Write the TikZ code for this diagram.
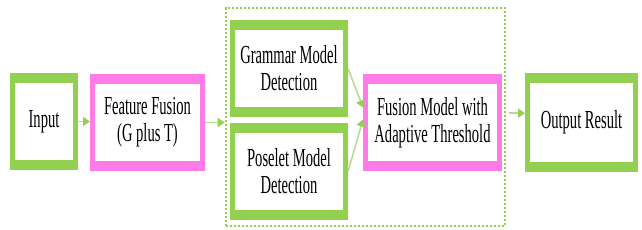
\documentclass[tikz,border=0pt]{standalone}
\usepackage{fontspec}
\setmainfont{Liberation Serif}[FakeStretch=0.56]
\usetikzlibrary{positioning,arrows.meta,fit}
\definecolor{boxgreen}{HTML}{92D050}
\definecolor{boxpink}{HTML}{FF7BE8}
\definecolor{linkgreen}{HTML}{B4DC8C}

\begin{document}
\begin{tikzpicture}[
  x=0.5pt, y=-0.5pt,
  font=\fontsize{13}{13.5}\selectfont,
  blk/.style={fill=#1, inner sep=0pt, outer sep=0pt, minimum height=48.5pt, align=center,
    path picture={\fill[white] ([shift={(2.5pt,-5pt)}]path picture bounding box.north west)
      rectangle ([shift={(-2.5pt,5pt)}]path picture bounding box.south east);}},
  grpbox/.style={draw=boxgreen, line width=1pt, dash pattern=on 1pt off 1pt, inner sep=0pt},
  arr/.style={-{Triangle[length=3.5pt,width=4.5pt,color=boxgreen]}, draw=linkgreen, line width=0.75pt},
]
\useasboundingbox (0,0) rectangle (642,230);

% input and fusion of features
\node[blk=boxgreen, minimum width=34pt] (in) at (44,121.5) {Input};
\node[blk=boxpink, minimum width=57.5pt] (ff) at (147.5,122.5) {Feature Fusion\\(G plus T)};

% detection models
\node[blk=boxgreen, minimum width=59pt] (gram) at (289,68.5) {Grammar Model\\Detection};
\node[blk=boxgreen, minimum width=59pt, below=3pt of gram] (pose) {Poselet Model\\Detection};
\node[blk=boxpink, minimum width=69.5pt] (fus) at (432.5,122.5) {Fusion Model with\\Adaptive Threshold};

% dotted group
\node[grpbox, minimum width=139.65pt, minimum height=108.85pt] (grp) at (365.35,117.15) {};

% result
\node[blk=boxgreen, minimum width=56.5pt, minimum height=49.5pt] (out) at (581.5,122.5) {Output Result};

\draw[arr] (in.east) -- (in.east -| ff.west);
\draw[arr] (ff.east) -- (ff.east -| grp.west);
\draw[arr] (gram.east) -- ([yshift=7.5pt]fus.west);
\draw[arr] (pose.east) -- ([yshift=1.5pt]fus.west);
\draw[arr] ([xshift=1.5pt,yshift=2pt]grp.east) -- ([yshift=2pt]grp.east -| out.west);

\end{tikzpicture}
\end{document}
